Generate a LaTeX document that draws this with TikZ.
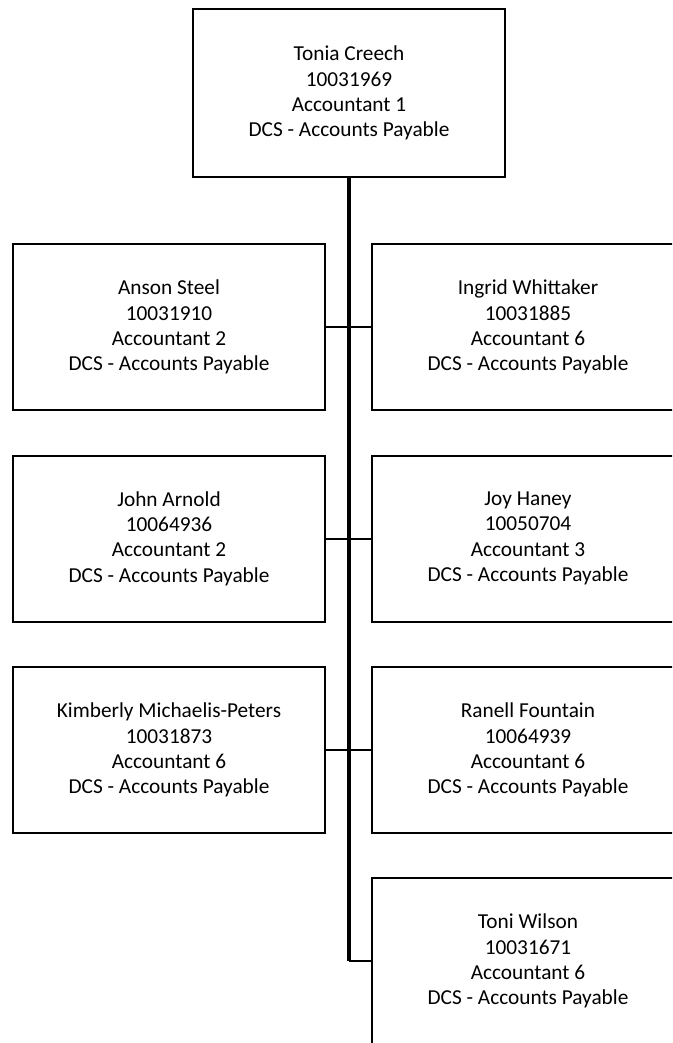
\documentclass[tikz,border=0pt]{standalone}
\usepackage{fontspec}
\setmainfont{Carlito}
\begin{document}
\begin{tikzpicture}[x=1pt,y=-1pt,
  person/.style={draw=black, line width=2pt, rectangle,
    minimum width=312pt, minimum height=166pt, inner sep=0pt,
    align=center, font=\fontsize{21.3}{25.3}\selectfont},
  link/.style={draw=black, line width=2pt},
  trunk/.style={draw=black, line width=3.2pt}]
\useasboundingbox (0,0) rectangle (672,1043);
\clip (0,0) rectangle (672,1043);

% manager
\node[person, minimum height=168pt] (tc) at (349,93)
  {Tonia Creech\\10031969\\Accountant 1\\DCS - Accounts Payable};

% direct reports, two columns
\node[person] (as) at (169,327)
  {Anson Steel\\10031910\\Accountant 2\\DCS - Accounts Payable};
\node[person] (iw) at (528,327)
  {Ingrid Whittaker\\10031885\\Accountant 6\\DCS - Accounts Payable};
\node[person] (ja) at (169,538.5)
  {John Arnold\\10064936\\Accountant 2\\DCS - Accounts Payable};
\node[person] (jh) at (528,538.5)
  {Joy Haney\\10050704\\Accountant 3\\DCS - Accounts Payable};
\node[person] (km) at (169,750)
  {Kimberly Michaelis-Peters\\10031873\\Accountant 6\\DCS - Accounts Payable};
\node[person] (rf) at (528,750)
  {Ranell Fountain\\10064939\\Accountant 6\\DCS - Accounts Payable};
\node[person] (tw) at (528,961)
  {Toni Wilson\\10031671\\Accountant 6\\DCS - Accounts Payable};

% reporting lines
\coordinate (elbow) at (tc.south |- tw.west);
\draw[trunk] (tc.south) -- (elbow);
\draw[link] (elbow) -- (tw.west);
\draw[link] (as.east) -- (iw.west);
\draw[link] (ja.east) -- (jh.west);
\draw[link] (km.east) -- (rf.west);
\end{tikzpicture}
\end{document}
